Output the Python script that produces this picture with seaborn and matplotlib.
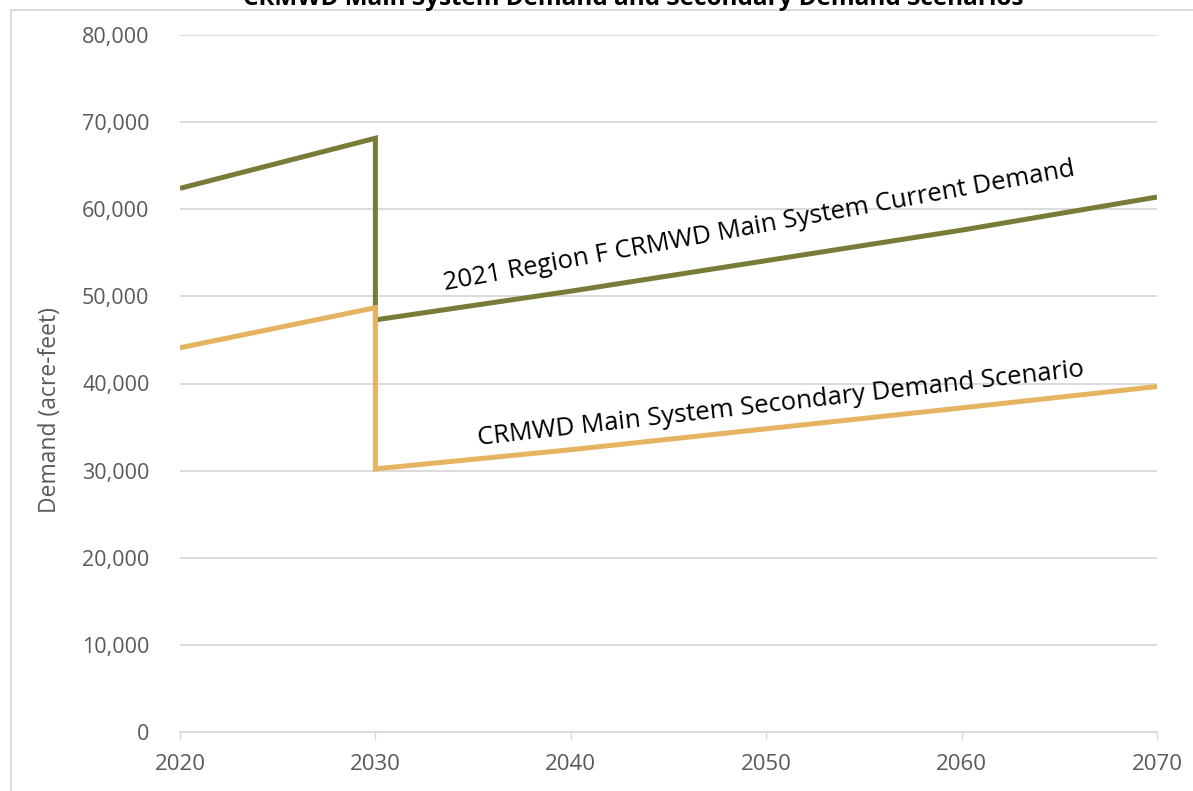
import matplotlib
matplotlib.use("Agg")
import matplotlib.pyplot as plt
import seaborn as sns
import pandas as pd
from matplotlib.patches import Rectangle
from matplotlib.ticker import FuncFormatter

years = [2020, 2030, 2030, 2040, 2050, 2060, 2070]
current_demand = [62400, 68150, 47300, 50600, 54100, 57600, 61400]
secondary_demand = [44100, 48700, 30200, 32400, 34800, 37200, 39650]
x_ticks = [2020, 2030, 2040, 2050, 2060, 2070]
y_ticks = [0, 10000, 20000, 30000, 40000, 50000, 60000, 70000, 80000]

title = "CRMWD Main System Demand and Secondary Demand Scenarios"
label_current = "2021 Region F CRMWD Main System Current Demand"
label_secondary = "CRMWD Main System Secondary Demand Scenario"

sns.set_theme(style="white")
plt.rcParams['font.family'] = ['Open Sans', 'DejaVu Sans']

W, H = 1193, 791
fig = plt.figure(figsize=(W / 100, H / 100), dpi=100)
ax = fig.add_axes([180 / W, 1 - 732 / H, (1157 - 180) / W, (732 - 35) / H])

green = "#787C38"
gold = "#E6B460"

df_c = pd.DataFrame({"year": years, "demand": current_demand})
df_s = pd.DataFrame({"year": years, "demand": secondary_demand})
sns.lineplot(data=df_c, x="year", y="demand", sort=False, estimator=None,
             color=green, lw=3.6, ax=ax, zorder=3)
sns.lineplot(data=df_s, x="year", y="demand", sort=False, estimator=None,
             color=gold, lw=3.6, ax=ax, zorder=3)
for l in ax.lines:
    l.set_solid_joinstyle("miter")
    l.set_solid_capstyle("butt")

ax.set_xlim(2020, 2070)
ax.set_ylim(0, 80000)
ax.set_xticks(x_ticks)
ax.set_yticks(y_ticks)
ax.yaxis.set_major_formatter(FuncFormatter(lambda v, p: f"{int(v):,}"))
ax.grid(axis="y", color="#D9D9D9", lw=1.3)
ax.set_axisbelow(True)
for s in ["left", "right", "top"]:
    ax.spines[s].set_visible(False)
ax.spines["bottom"].set_color("#D9D9D9")
ax.spines["bottom"].set_linewidth(1.3)
ax.tick_params(axis="x", bottom=True, length=6, width=1.0, color="#D9D9D9",
               labelsize=16, labelcolor="#595959", pad=10)
ax.tick_params(axis="y", left=False, labelsize=15.5, labelcolor="#595959", pad=16)
ax.set_xlabel("")
ax.set_ylabel("Demand (acre-feet)", fontsize=16.5, color="#595959")
ax.yaxis.set_label_coords(-0.121, 0.462)

ax.text(2033.55, 50700, label_current, rotation=10.3, rotation_mode="anchor",
        fontsize=18.5, color="black", ha="left", va="baseline", zorder=4)
ax.text(2035.25, 32950, label_secondary, rotation=6.5, rotation_mode="anchor",
        fontsize=18.5, color="black", ha="left", va="baseline", zorder=4)

# chart border (cropped)
fig.add_artist(Rectangle((11 / W, -0.1), 1.2, 1 - 10 / H + 0.1,
                         transform=fig.transFigure, fill=False,
                         edgecolor="#D9D9D9", lw=1.3))
fig.text(633 / W, 1 - 5 / H, title, ha="center", va="baseline",
         fontsize=17.5, fontweight="bold", color="black")

fig.savefig("out.png", dpi=100)
